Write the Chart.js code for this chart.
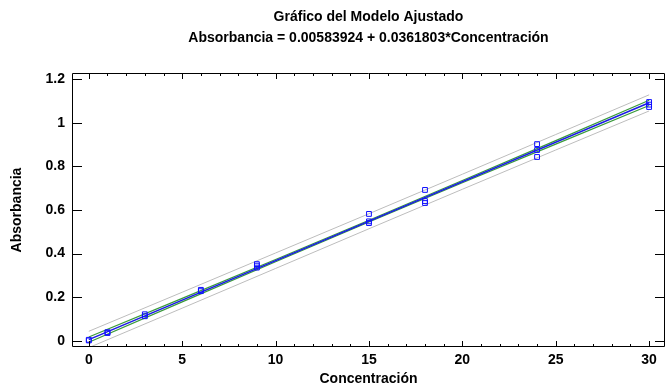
<!DOCTYPE html>
<html>
<head>
<meta charset="utf-8">
<script src="https://cdn.jsdelivr.net/npm/chart.js@4.4.0/dist/chart.umd.min.js"></script>
<style>
body { margin: 0; background: white; }
</style>
</head>
<body>
<canvas id="myChart" width="670" height="388"></canvas>
<script>
// puntos observados (Concentración, Absorbancia)
const concX = [0, 0, 1, 1, 3, 3, 6, 6, 9, 9, 9, 15, 15, 15, 18, 18, 18, 24, 24, 24, 30, 30, 30];
const absY  = [0.002, 0.005, 0.036, 0.040, 0.113, 0.122, 0.228, 0.234, 0.336, 0.345, 0.352,
               0.540, 0.548, 0.582, 0.632, 0.641, 0.692, 0.843, 0.875, 0.902, 1.072, 1.083, 1.095];

// modelo ajustado
const fitX = [0, 30];
const fitY = [0.0058, 1.0913];

// limites de confianza y prediccion
const bandX     = [0, 5, 10, 15, 20, 25, 30];
const confUpper = [0.018, 0.195, 0.373, 0.553, 0.735, 0.918, 1.103];
const confLower = [-0.006, 0.179, 0.363, 0.545, 0.725, 0.902, 1.079];
const predUpper = [0.044, 0.223, 0.403, 0.583, 0.764, 0.946, 1.128];
const predLower = [-0.031, 0.150, 0.332, 0.514, 0.695, 0.875, 1.054];

// ejes
const xMajorTicks = [0, 5, 10, 15, 20, 25, 30];
const xMinorTicks = [0, 1, 2, 3, 4, 5, 6, 7, 8, 9, 10, 11, 12, 13, 14, 15,
                     16, 17, 18, 19, 20, 21, 22, 23, 24, 25, 26, 27, 28, 29, 30];
const yTicks = [0, 0.2, 0.4, 0.6, 0.8, 1, 1.2];
const yTickLabels = ["0", "0.2", "0.4", "0.6", "0.8", "1", "1.2"];

const textColor = "#000";
const boldFont = { family: "'Liberation Sans', Arial, sans-serif", size: 14, weight: "bold" };

function toPoints(xs, ys) {
    return xs.map(function (x, i) { return { x: x, y: ys[i] }; });
}

// marco y marcas hacia dentro
const frameTicks = {
    id: "frameTicks",
    afterDatasetsDraw(chart) {
	const ctx = chart.ctx;
	const a = chart.chartArea;
	const xs = chart.scales.x;
	const ys = chart.scales.y;
	ctx.save();
	ctx.strokeStyle = "#000";
	ctx.lineWidth = 1;
	ctx.beginPath();
	ctx.rect(a.left + 0.5, a.top + 0.5, a.right - a.left - 1, a.bottom - a.top - 1);
	xMinorTicks.forEach(function (v) {
	    const px = Math.round(xs.getPixelForValue(v)) + 0.5;
	    const len = xMajorTicks.includes(v) ? 6 : 3;
	    ctx.moveTo(px, a.bottom);
	    ctx.lineTo(px, a.bottom - len);
	    ctx.moveTo(px, a.top);
	    ctx.lineTo(px, a.top + len);
	});
	yTicks.forEach(function (v) {
	    const py = Math.round(ys.getPixelForValue(v)) + 0.5;
	    ctx.moveTo(a.left, py);
	    ctx.lineTo(a.left + 10, py);
	    ctx.moveTo(a.right, py);
	    ctx.lineTo(a.right - 10, py);
	});
	ctx.stroke();
	ctx.restore();
    }
};

const ctx = document.getElementById("myChart").getContext("2d");
window.myChart = new Chart(ctx, {
    type: "line",
    data: {
	datasets: [
	    { label: "obs",
	      data: toPoints(concX, absY),
	      showLine: false,
	      pointStyle: "rect",
	      pointRadius: 3.4,
	      borderWidth: 1,
	      borderColor: "#1010ff",
	      backgroundColor: "rgba(255,255,255,0)",
	      order: 0 },
	    { label: "fit",
	      data: toPoints(fitX, fitY),
	      borderColor: "#1c1ce6",
	      borderWidth: 1.6,
	      pointRadius: 0,
	      order: 1 },
	    { label: "confUpper",
	      data: toPoints(bandX, confUpper),
	      borderColor: "#3a9a3a",
	      borderWidth: 1.2,
	      pointRadius: 0,
	      order: 2 },
	    { label: "confLower",
	      data: toPoints(bandX, confLower),
	      borderColor: "#3a9a3a",
	      borderWidth: 1.2,
	      pointRadius: 0,
	      order: 2 },
	    { label: "predUpper",
	      data: toPoints(bandX, predUpper),
	      borderColor: "#bdbdbd",
	      borderWidth: 1,
	      pointRadius: 0,
	      order: 3 },
	    { label: "predLower",
	      data: toPoints(bandX, predLower),
	      borderColor: "#bdbdbd",
	      borderWidth: 1,
	      pointRadius: 0,
	      order: 3 }
	]
    },
    options: {
	responsive: false,
	animation: false,
	layout: { padding: { left: 0, right: 2, top: 0, bottom: 0 } },
	plugins: {
	    legend: { display: false },
	    tooltip: { enabled: false },
	    title: {
		display: true,
		fullSize: false,
		text: ["Gráfico del Modelo Ajustado",
		       "Absorbancia = 0.00583924 + 0.0361803*Concentración"],
		color: textColor,
		font: { family: boldFont.family, size: 14, weight: "bold", lineHeight: 1.5 },
		padding: { top: 6.5, bottom: 24.5 }
	    }
	},
	scales: {
	    x: {
		type: "linear",
		min: -0.9,
		max: 30.85,
		grid: { display: false, drawTicks: false },
		border: { display: false },
		afterBuildTicks: function (scale) {
		    scale.ticks = xMajorTicks.map(function (v) { return { value: v }; });
		},
		afterFit: function (scale) { scale.height = 41; },
		ticks: {
		    color: textColor,
		    font: boldFont,
		    padding: 5,
		    maxRotation: 0,
		    autoSkip: false,
		    callback: function (v) { return String(v); }
		},
		title: {
		    display: true,
		    text: "Concentración",
		    color: textColor,
		    font: boldFont,
		    padding: { top: 0, bottom: 0.5 }
		}
	    },
	    y: {
		type: "linear",
		min: -0.028,
		max: 1.228,
		grid: { display: false, drawTicks: false },
		border: { display: false },
		afterBuildTicks: function (scale) {
		    scale.ticks = yTicks.map(function (v) { return { value: v }; });
		},
		afterFit: function (scale) { scale.width = 72; },
		ticks: {
		    color: textColor,
		    font: boldFont,
		    padding: 7,
		    autoSkip: false,
		    callback: function (v) {
			const i = yTicks.indexOf(v);
			return i >= 0 ? yTickLabels[i] : "";
		    }
		},
		title: {
		    display: true,
		    text: "Absorbancia",
		    color: textColor,
		    font: boldFont,
		    padding: { top: 8.6, bottom: 0 }
		}
	    }
	}
    },
    plugins: [frameTicks]
});
</script>
</body>
</html>
